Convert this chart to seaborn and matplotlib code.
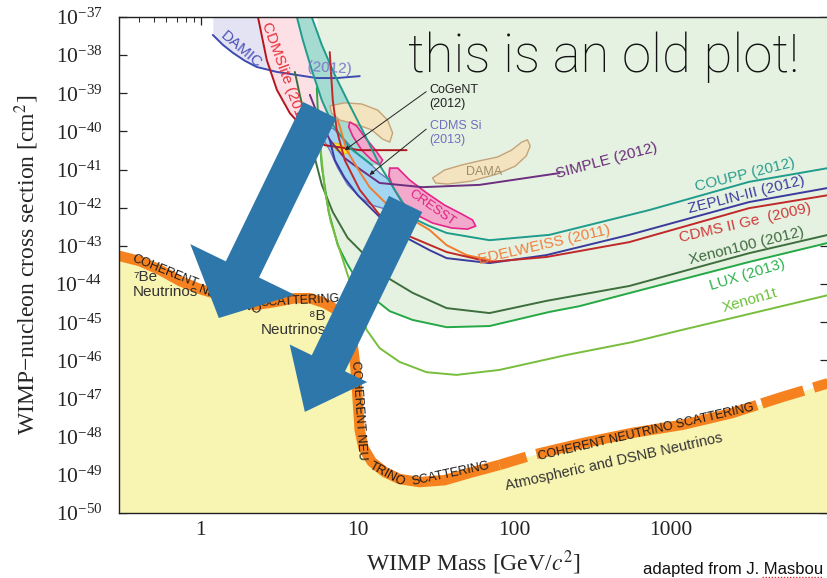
import numpy as np
import pandas as pd
import matplotlib
matplotlib.use("Agg")
import matplotlib.pyplot as plt
from matplotlib.lines import Line2D
from matplotlib.ticker import LogLocator, NullLocator, NullFormatter, LogFormatterSciNotation, FixedLocator
import seaborn as sns

# ---------------- data: WIMP mass [GeV/c^2] and log10(cross section [cm^2]) ----------------
nu_mass = [0.300, 0.409, 0.548, 0.735, 0.985, 1.32, 1.77, 2.21, 2.96, 3.97, 4.95, 6.16, 7.35, 8.51,
           9.29, 9.71, 10.0, 10.3, 10.9, 12.3, 14.9, 18.5, 24.8, 35.8, 51.7, 80.2, 130, 271, 565,
           1175, 2447, 5090, 10000]
nu_logsig = [-43.26, -43.40, -43.63, -43.92, -44.13, -44.29, -44.47, -44.55, -44.47, -44.37, -44.37,
             -44.50, -44.68, -45.07, -45.60, -46.25, -47.04, -47.83, -48.30, -48.66, -48.93, -49.11,
             -49.19, -49.14, -48.95, -48.74, -48.48, -48.17, -47.90, -47.69, -47.38, -46.96, -46.60]

coupp_mass = [5.09, 5.90, 7.14, 8.89, 11.1, 13.8, 17.2, 22.4, 28.7, 36.9, 69.3, 167, 724, 3140, 10000]
coupp_logsig = [-37.00, -37.73, -38.52, -39.31, -40.09, -40.88, -41.53, -42.27, -42.48, -42.66,
                -42.85, -42.71, -42.06, -41.32, -40.96]

teal_mass = [4.09, 4.46, 5.09, 5.90, 6.93, 8.89, 12.3]
teal_logsig = [-37.00, -37.60, -38.39, -39.18, -39.83, -40.43, -40.88]

cdmslite_mass = [2.31, 2.63, 3.05, 3.69, 4.60, 6.16, 10.3, 20.5]
cdmslite_logsig = [-37.00, -38.13, -38.91, -39.52, -39.96, -40.36, -40.49, -40.49]

damic_mass = [1.19, 1.38, 1.60, 1.91, 2.27, 3.05, 4.09, 5.48, 7.35, 10.3]
damic_logsig = [-37.47, -37.73, -37.94, -38.15, -38.31, -38.44, -38.52, -38.60, -38.60, -38.55]

lux_mass = [5.48, 5.64, 5.90, 6.53, 7.46, 8.51, 9.86, 11.4, 16.0, 22.4, 36.9, 69.3, 167, 259, 724,
            3140, 10000]
lux_logsig = [-38.86, -39.96, -40.93, -42.11, -42.98, -43.45, -43.89, -44.23, -44.71, -44.94, -45.13,
              -45.10, -44.73, -44.58, -44.10, -43.42, -42.92]

xe1t_mass = [5.64, 5.81, 6.16, 6.73, 7.68, 8.63, 9.57, 10.3, 11.4, 13.8, 18.5, 27.5, 42.7, 80.2, 214,
             565, 1175, 2023, 10000]
xe1t_logsig = [-39.44, -40.49, -41.53, -42.37, -43.11, -43.76, -44.29, -44.68, -45.20, -45.68, -46.04,
               -46.31, -46.38, -46.25, -45.86, -45.52, -45.20, -44.97, -44.29]

xe100_mass = [3.97, 4.27, 4.67, 5.17, 5.90, 6.93, 8.63, 11.1, 15.3, 22.4, 36.9, 69.3, 160, 540, 3140,
              10000]
xe100_logsig = [-38.44, -39.04, -39.70, -40.49, -41.40, -42.11, -42.79, -43.24, -43.82, -44.23, -44.63,
                -44.76, -44.44, -44.05, -43.19, -42.71]

zeplin_mass = [6.63, 7.14, 8.26, 10.0, 13.8, 20.5, 28.7, 36.9, 69.3, 160, 540, 3140, 10000]
zeplin_logsig = [-40.22, -40.75, -41.22, -41.67, -42.24, -42.79, -43.11, -43.32, -43.45, -43.24, -42.71,
                 -41.85, -41.48]

cdmsge_mass = [6.63, 6.93, 7.35, 8.26, 10.3, 13.8, 18.5, 36.9, 69.3, 160, 540, 3140, 10000]
cdmsge_logsig = [-37.92, -39.18, -39.96, -40.75, -41.53, -42.19, -42.64, -43.16, -43.42, -43.29, -42.90,
                 -42.01, -41.67]

edel_mass = [7.46, 8.51, 10.3, 11.9, 16.0, 22.4, 28.7, 36.9, 49.5, 69.3]
edel_logsig = [-39.70, -40.49, -41.06, -41.46, -41.98, -42.32, -42.58, -42.98, -43.24, -43.37]

simple_mass = [4.95, 5.56, 6.63, 8.26, 9.86, 13.8, 25.9, 59.8, 194]
simple_logsig = [-39.04, -39.57, -40.22, -40.70, -40.93, -41.35, -41.46, -41.40, -41.09]

cdmssi_mass = [5.98, 6.93, 8.26, 9.86, 11.9, 13.8, 16.5, 19.1, 21.4, 20.5, 18.0, 14.9, 12.3, 10.3, 8.63,
               7.46, 6.63, 6.07]
cdmssi_logsig = [-39.96, -39.91, -40.22, -40.56, -40.83, -41.09, -41.32, -41.59, -41.80, -41.98, -42.03,
                 -42.03, -41.93, -41.72, -41.40, -40.96, -40.49, -40.22]

cresst_mass = [16.0, 18.0, 21.4, 27.5, 35.8, 45.9, 54.0, 56.5, 50.2, 39.7, 30.0, 23.1, 19.1, 16.9, 15.8]
cresst_logsig = [-40.96, -40.96, -41.27, -41.61, -41.93, -42.16, -42.32, -42.48, -42.56, -42.53, -42.40,
                 -42.16, -41.85, -41.48, -41.17]
cresst2_mass = [8.89, 9.86, 11.2, 13.0, 14.4, 13.8, 12.3, 10.6, 9.29, 8.76]
cresst2_logsig = [-39.75, -39.86, -40.17, -40.49, -40.75, -40.88, -40.75, -40.49, -40.12, -39.88]

dama_mass = [30.0, 35.8, 45.9, 59.8, 77.9, 95.7, 111, 121, 126, 119, 101, 76.8, 53.2, 37.4, 31.4]
dama_logsig = [-41.22, -41.01, -40.88, -40.77, -40.67, -40.49, -40.28, -40.22, -40.38, -40.64, -40.91,
               -41.12, -41.30, -41.38, -41.35]
dama2_mass = [6.63, 8.26, 10.6, 13.4, 15.5, 16.7, 16.0, 14.4, 12.3, 9.71, 7.68, 6.83]
dama2_logsig = [-39.33, -39.25, -39.28, -39.44, -39.70, -40.04, -40.28, -40.20, -39.96, -39.81, -39.70,
                -39.52]

cogent_mass = [6.93, 7.68, 8.63, 8.89, 8.14, 7.24]
cogent_logsig = [-40.30, -40.33, -40.46, -40.56, -40.59, -40.49]

x_ticks = [1, 10, 100, 1000]
x_ticklabels = ["1", "10", "100", "1000"]
y_exponents = list(range(-50, -36))

S = lambda v: 10.0 ** np.asarray(v)

# ---------------- style ----------------
sns.set_theme(style="ticks")
plt.rcParams["font.family"] = ["Liberation Serif", "DejaVu Serif"]
plt.rcParams["mathtext.fontset"] = "stix"
SANS = ["Liberation Sans", "DejaVu Sans"]

fig = plt.figure(figsize=(8.28, 5.78), dpi=100)
ax = fig.add_axes([119 / 828, 65 / 578, 709 / 828, 496 / 578])
ax.set_xscale("log")
ax.set_yscale("log")
ax.set_xlim(0.3, 1e4)
ax.set_ylim(1e-50, 1e-37)
ax.set_facecolor("white")

# ---------------- filled regions ----------------
ax.fill_between(nu_mass, S(nu_logsig), 1e-50, color="#f8f4b2", lw=0, zorder=1)
ax.fill_between(lux_mass, S(lux_logsig), 1e-37, color="#e5f2e1", lw=0, zorder=1)
ax.fill_between(damic_mass[:7], S(damic_logsig[:7]), 1e-37, color="#e4e3f4", lw=0, zorder=1.1)
pink_m = cdmslite_mass[:6] + teal_mass[:5][::-1]
pink_s = cdmslite_logsig[:6] + teal_logsig[:5][::-1]
ax.fill(pink_m, S(pink_s), color="#fde0e6", lw=0, zorder=1.2)
band_m = teal_mass + coupp_mass[:6][::-1]
band_s = teal_logsig + coupp_logsig[:6][::-1]
ax.fill(band_m, S(band_s), color="#a6dbd2", lw=0, zorder=1.3)

ax.fill(dama_mass, S(dama_logsig), fc="#f3e4bf", ec="#c5a37a", lw=1.0, zorder=1.4)
ax.fill(dama2_mass, S(dama2_logsig), fc="#f3e4bf", ec="#c5a37a", lw=1.0, zorder=1.4)
ax.fill(cdmssi_mass, S(cdmssi_logsig), fc="#a3d6f2", ec="#6d78c4", lw=1.0, zorder=1.5)
ax.fill(cresst_mass, S(cresst_logsig), fc="#f2a9cb", ec="#e6248b", lw=1.2, zorder=1.6)
ax.fill(cresst2_mass, S(cresst2_logsig), fc="#f2a9cb", ec="#e6248b", lw=1.2, zorder=1.6)
ax.fill(cogent_mass, S(cogent_logsig), fc="#ffe21f", ec="#e8c000", lw=0.6, zorder=1.7)

# ---------------- exclusion curves (seaborn) ----------------
curves = {
    "DAMIC": (damic_mass, damic_logsig, "#3c4bb0"),
    "CDMSlite": (cdmslite_mass, cdmslite_logsig, "#b3161e"),
    "teal edge": (teal_mass, teal_logsig, "#1f9c8c"),
    "COUPP": (coupp_mass, coupp_logsig, "#1f9c8c"),
    "SIMPLE": (simple_mass, simple_logsig, "#6d2f7f"),
    "EDELWEISS": (edel_mass, edel_logsig, "#ef7d2d"),
    "ZEPLIN-III": (zeplin_mass, zeplin_logsig, "#3b3b9e"),
    "CDMS II Ge": (cdmsge_mass, cdmsge_logsig, "#c0282a"),
    "Xenon100": (xe100_mass, xe100_logsig, "#3d6e3d"),
    "LUX": (lux_mass, lux_logsig, "#26a846"),
    "Xenon1t": (xe1t_mass, xe1t_logsig, "#78be3c"),
}
frames = []
for name, (m, s, c) in curves.items():
    frames.append(pd.DataFrame({"mass": m, "sigma": S(s), "exp": name}))
df = pd.concat(frames, ignore_index=True)
palette = {k: v[2] for k, v in curves.items()}
sns.lineplot(data=df, x="mass", y="sigma", hue="exp", palette=palette, estimator=None,
             sort=False, legend=False, lw=1.4, ax=ax, zorder=2)

# ---------------- neutrino floor band ----------------
nu_split = 25
ax.plot(nu_mass[:nu_split + 1], S(nu_logsig[:nu_split + 1]), color="#f5821f", lw=7.5,
        solid_capstyle="butt", solid_joinstyle="round", zorder=2.5)
ax.plot(nu_mass[nu_split:], S(nu_logsig[nu_split:]), color="#f5821f", lw=7.5,
        linestyle=(0, (2.7, 1.0, 21.7, 0.5, 4.2, 1.0, 6, 1)), dash_capstyle="butt", zorder=2.5)

band_txt = [
    ("COHERENT", 0.590, -43.66, -22),
    ("NEUTRINO", 1.53, -44.42, -20),
    ("SCATTERING", 4.27, -44.44, 3),
    ("COHERENT NEU", 10.1, -47.30, -86),
    ("TRINO", 15.5, -48.98, -28),
    ("SCATTERING", 39.1, -48.98, 12),
    ("COHERENT NEUTRINO SCATTERING", 693, -47.88, 13),
]
for t, m, s, r in band_txt:
    ax.text(m, 10 ** s, t, rotation=r, rotation_mode="anchor", ha="center", va="center",
            fontsize=9, family=SANS, color="#1a1a1a", zorder=3)

ax.text(0.369, 10 ** -43.63, "\u2077Be\nNeutrinos", ha="left", va="top", fontsize=11,
        family=SANS, color="#333333", linespacing=1.05, zorder=3)
ax.text(6.25, 10 ** -44.65, "\u2078B\nNeutrinos", ha="right", va="top", fontsize=11,
        family=SANS, color="#333333", linespacing=1.05, multialignment="right", zorder=3)
ax.text(433, 10 ** -48.66, "Atmospheric and DSNB Neutrinos", rotation=12.6, rotation_mode="anchor",
        ha="center", va="center", fontsize=10.5, family=SANS, color="#333333", zorder=3)

# ---------------- experiment labels ----------------
labels = [
    ("SIMPLE (2012)", 385, -40.77, 15, "#6a2d78", 11),
    ("EDELWEISS (2011)", 155, -42.98, 13, "#f08040", 11),
    ("COUPP (2012)", 2960, -41.14, 14, "#2a9d8f", 11),
    ("ZEPLIN-III (2012)", 3005, -41.66, 14, "#3c3ca0", 11),
    ("CDMS II Ge  (2009)", 2960, -42.40, 13, "#d0393a", 11),
    ("Xenon100 (2012)", 3005, -43.00, 14, "#406b40", 11),
    ("LUX (2013)", 3050, -43.76, 17, "#2eb34f", 11),
    ("Xenon1t", 3185, -44.42, 16, "#6cc03c", 11),
    ("DAMIC", 1.80, -37.87, -40, "#4a52b5", 11),
    ("(2012)", 6.63, -38.33, -3, "#7a7ac8", 11),
    ("CDMSlite (2013)", 3.43, -38.55, -70, "#e8303a", 11),
    ("CRESST", 30.0, -42.01, -35, "#e0207f", 9.5),
    ("DAMA", 63.5, -41.06, 0, "#a08c6a", 9),
]
for t, m, s, r, c, fs in labels:
    ax.text(m, 10 ** s, t, rotation=r, rotation_mode="anchor", ha="center", va="center",
            fontsize=fs, family=SANS, color=c, zorder=3)

ax.annotate("CoGeNT\n(2012)", xy=(8.26, 10 ** -40.49), xytext=(28.7, 10 ** -38.76),
            ha="left", va="top", fontsize=9, family=SANS, color="#222222",
            arrowprops=dict(arrowstyle="-|>", lw=0.7, color="#222222", mutation_scale=6,
                            shrinkA=0, shrinkB=0, relpos=(0, 0.8)), zorder=3)
ax.annotate("CDMS Si\n(2013)", xy=(11.9, 10 ** -41.14), xytext=(28.7, 10 ** -39.70),
            ha="left", va="top", fontsize=9, family=SANS, color="#6f6fbf",
            arrowprops=dict(arrowstyle="-|>", lw=0.7, color="#222222", mutation_scale=6,
                            shrinkA=0, shrinkB=0, relpos=(0, 0.75)), zorder=3)

# ---------------- big blue arrows ----------------
blue = "#2e77ab"
ax.annotate("", xy=(1.30, 10 ** -44.89), xytext=(5.73, 10 ** -39.44),
            arrowprops=dict(arrowstyle="simple,head_length=38.9,head_width=83.5,tail_width=26.6",
                            mutation_scale=1, shrinkA=0, shrinkB=0, fc=blue, ec="none"),
            zorder=6, annotation_clip=False)
ax.annotate("", xy=(4.60, 10 ** -47.35), xytext=(20.2, 10 ** -41.90),
            arrowprops=dict(arrowstyle="simple,head_length=38.9,head_width=62,tail_width=26.6",
                            mutation_scale=1, shrinkA=0, shrinkB=0, fc=blue, ec="none"),
            zorder=6, annotation_clip=False)

# ---------------- axes ----------------
ax.xaxis.set_major_locator(FixedLocator(x_ticks))
ax.set_xticklabels(x_ticklabels)
ax.xaxis.set_minor_locator(LogLocator(base=10, subs=np.arange(2, 10), numticks=30))
ax.xaxis.set_minor_formatter(NullFormatter())
ax.yaxis.set_major_locator(FixedLocator([10.0 ** e for e in y_exponents]))
ax.yaxis.set_major_formatter(LogFormatterSciNotation())
ax.yaxis.set_minor_locator(NullLocator())
ax.tick_params(axis="both", which="both", direction="in", top=True, right=True, colors="#222222")
ax.tick_params(axis="both", which="major", length=6, width=0.9, labelsize=15.5)
ax.tick_params(axis="both", which="minor", length=3.5, width=0.7)
ax.tick_params(axis="y", pad=12)
ax.tick_params(axis="x", pad=6)
for sp in ax.spines.values():
    sp.set_color("#222222")
    sp.set_linewidth(1.0)
    sp.set_zorder(7)

ax.set_xlabel("WIMP Mass [GeV/$c^2$]", fontsize=17)
ax.set_ylabel("WIMP\u2212nucleon cross section [cm$^2$]", fontsize=17)
ax.xaxis.set_label_coords(0.5, -0.072)
ax.yaxis.set_label_coords(-0.11, 0.5)

fig.text(408 / 828, 1 - 72 / 578, "this is an old plot!", ha="left", va="baseline", fontsize=38,
         family=["Roboto", "DejaVu Sans"], fontweight="light", color="#111111", zorder=10)
fig.text(823 / 828, 1 - 574 / 578, "adapted from J. Masbou", ha="right", va="baseline", fontsize=12,
         family=SANS, color="#111111")
fig.add_artist(Line2D([762 / 828, 822 / 828], [1 - 577 / 578, 1 - 577 / 578], color="#e03030",
                      lw=1.0, linestyle=(0, (1, 1.2))))

fig.savefig("out.png", dpi=100)
